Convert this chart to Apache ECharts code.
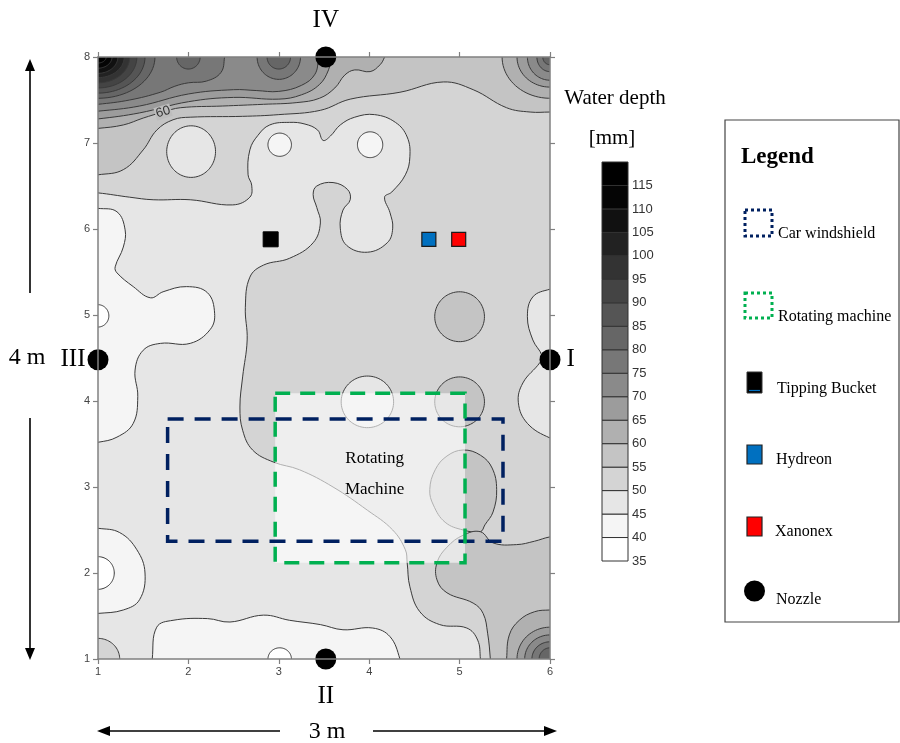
<!DOCTYPE html>
<html><head><meta charset="utf-8">
<script src="https://cdn.jsdelivr.net/npm/echarts/dist/echarts.min.js"></script>
<style>html,body{margin:0;padding:0;background:#fff}#c{width:900px;height:743px}</style>
</head><body><div id="c"></div>
<script>
// ---------------- data ----------------
const xTicks = [1, 2, 3, 4, 5, 6];
const yTicks = [1, 2, 3, 4, 5, 6, 7, 8];
const depthLevels = [35, 40, 45, 50, 55, 60, 65, 70, 75, 80, 85, 90, 95, 100, 105, 110, 115];
const depthColors = ['#ffffff', '#f5f5f5', '#e6e6e6', '#d4d4d4', '#c4c4c4', '#b0b0b0', '#9c9c9c', '#8a8a8a',
  '#777777', '#666666', '#555555', '#444444', '#333333', '#222222', '#111111', '#050505', '#000000'];
const backgroundLevel = 50;

// contour regions, in data units (x, y). polygon = list of [x,y]; ellipse = [cx, cy, rx, ry]
const contour45 = [
  [[0.9,6.42],[1.0,6.42],[1.35,6.37],[1.61,6.34],[2.02,6.34],[2.49,6.28],[2.68,6.37],[2.70,6.51],[2.66,6.63],[2.68,6.92],[2.77,7.09],[2.90,7.21],[3.12,7.24],[3.29,7.22],[3.43,7.15],[3.49,7.03],[3.57,7.08],[3.68,7.21],[3.84,7.30],[4.06,7.33],[4.29,7.24],[4.42,7.07],[4.45,6.84],[4.40,6.63],[4.25,6.43],[4.17,6.37],[4.23,6.19],[4.26,6.01],[4.20,5.84],[3.98,5.73],[3.75,5.81],[3.68,6.01],[3.71,6.22],[3.79,6.34],[3.76,6.46],[3.60,6.54],[3.42,6.50],[3.38,6.40],[3.42,6.25],[3.46,6.07],[3.38,5.84],[3.12,5.66],[2.83,5.58],[2.68,5.44],[2.63,5.09],[2.65,4.71],[2.60,4.28],[2.57,3.93],[2.60,3.66],[2.71,3.43],[2.94,3.29],[3.23,3.20],[3.60,3.00],[3.98,2.73],[4.26,2.50],[4.40,2.27],[4.42,2.12],[4.45,1.84],[4.56,1.55],[4.78,1.40],[5.08,1.36],[5.20,1.22],[5.23,1.0],[5.23,0.9],[0.9,0.9]],
  [2.03, 6.90, 0.27, 0.30],
  [[6.1,5.30],[6.0,5.30],[5.81,5.21],[5.75,4.98],[5.81,4.71],[5.91,4.53],[5.89,4.45],[5.70,4.21],[5.65,3.98],[5.75,3.74],[6.0,3.57],[6.1,3.57]],
  [3.98, 3.99, 0.29, 0.30]
];
const contour50 = [
  [1.0, 1.0, 0.24, 0.24]
];
const contour40 = [
  [[0.9,6.24],[1.0,6.24],[1.21,6.20],[1.30,5.99],[1.28,5.79],[1.19,5.56],[1.21,5.49],[1.39,5.33],[1.58,5.20],[1.72,5.27],[1.98,5.33],[2.21,5.26],[2.29,5.02],[2.24,4.83],[2.02,4.67],[1.69,4.67],[1.50,4.59],[1.41,4.36],[1.44,4.05],[1.39,3.74],[1.21,3.58],[1.0,3.52],[0.9,3.52]],
  [[0.9,2.52],[1.0,2.52],[1.24,2.47],[1.43,2.27],[1.52,2.0],[1.46,1.69],[1.28,1.57],[1.0,1.53],[0.9,1.53]],
  [[1.60,0.9],[1.60,1.0],[1.65,1.37],[1.83,1.45],[2.21,1.47],[2.46,1.43],[2.83,1.51],[3.12,1.45],[3.46,1.40],[3.71,1.34],[4.04,1.36],[4.23,1.26],[4.34,1.0],[4.34,0.9]],
  [3.01, 6.98, 0.13, 0.135],
  [4.01, 6.98, 0.14, 0.15]
];
const contour35 = [
  [1.0, 4.99, 0.12, 0.13],
  [1.0, 2.0, 0.18, 0.19],
  [3.01, 1.0, 0.13, 0.13]
];
const contour55 = [
  [[0.9,6.63],[1.0,6.63],[1.28,6.69],[1.50,6.92],[1.65,7.15],[1.83,7.27],[2.02,7.30],[2.60,7.31],[3.0,7.33],[3.46,7.38],[3.79,7.51],[4.34,7.59],[4.82,7.71],[5.15,7.62],[5.52,7.41],[5.78,7.36],[6.0,7.36],[6.1,7.36],[6.1,8.1],[0.9,8.1]],
  [5.0, 4.98, 0.275, 0.29],
  [5.0, 3.99, 0.275, 0.29],
  [[5.04,3.43],[5.23,3.37],[5.36,3.22],[5.41,2.97],[5.37,2.71],[5.28,2.56],[5.23,2.48],[5.04,2.50],[4.84,2.59],[4.71,2.79],[4.67,2.97],[4.73,3.20],[4.86,3.36]],
  [[5.23,2.48],[5.37,2.35],[5.63,2.33],[5.83,2.37],[6.0,2.42],[6.1,2.42],[6.1,0.9],[5.34,0.9],[5.34,1.0],[5.31,1.30],[5.26,1.53],[5.15,1.65],[4.86,1.77],[4.75,1.92],[4.75,2.12],[4.86,2.30],[5.04,2.44]]
];
const contour60 = [
  [[0.9,7.17],[1.0,7.17],[1.28,7.21],[1.50,7.29],[1.72,7.36],[1.91,7.41],[2.38,7.43],[2.83,7.45],[3.2,7.47],[3.45,7.52],[3.62,7.64],[3.73,7.79],[3.84,7.85],[4.01,7.83],[4.12,7.91],[4.17,8.0],[4.2,8.1],[0.9,8.1]],
  [6.0, 8.0, 0.53, 0.48],
  [[5.52,0.9],[5.52,1.0],[5.55,1.28],[5.66,1.45],[5.83,1.55],[6.0,1.57],[6.1,1.57],[6.1,0.9]]
];
const contour65 = [
  [[0.9,7.28],[1.0,7.28],[1.46,7.35],[2.0,7.48],[2.5,7.53],[3.0,7.51],[3.25,7.56],[3.45,7.68],[3.55,7.85],[3.58,8.0],[3.6,8.1],[0.9,8.1]],
  [6.0, 8.0, 0.365, 0.35],
  [6.0, 1.0, 0.365, 0.37]
];
const contour70 = [
  [[0.9,7.37],[1.0,7.37],[1.46,7.43],[2.0,7.57],[2.5,7.62],[2.75,7.61],[3.0,7.6],[3.25,7.67],[3.4,7.8],[3.44,8.0],[3.45,8.1],[0.9,8.1]],
  [6.0, 8.0, 0.25, 0.27],
  [6.0, 1.0, 0.28, 0.28]
];
const contour75 = [
  [[0.9,7.45],[1.0,7.45],[1.35,7.5],[1.69,7.59],[1.85,7.66],[2.0,7.70],[2.2,7.72],[2.36,7.82],[2.4,8.0],[2.4,8.1],[0.9,8.1]],
  [3.0, 8.0, 0.24, 0.26],
  [6.0, 8.0, 0.145, 0.17],
  [6.0, 1.0, 0.2, 0.2]
];
const contour80 = [
  [1.0, 8.0, 0.63, 0.48],
  [2.0, 8.0, 0.13, 0.14],
  [3.0, 8.0, 0.13, 0.14],
  [6.0, 8.0, 0.08, 0.09],
  [6.0, 1.0, 0.12, 0.13]
];
const contour85 = [[1.0, 8.0, 0.52, 0.42]];
const contour90 = [[1.0, 8.0, 0.43, 0.36]];
const contour95 = [[1.0, 8.0, 0.35, 0.30]];
const contour100 = [[1.0, 8.0, 0.29, 0.24]];
const contour105 = [[1.0, 8.0, 0.22, 0.19]];
const contour110 = [[1.0, 8.0, 0.155, 0.13]];
const contour115 = [[1.0, 8.0, 0.09, 0.07]];
const contourLabels = [[1.72, 7.36, '60']];

const windshield = [[1.77, 2.37, 5.48, 3.79]];
const rotatingMachine = [[2.96, 2.12, 5.06, 4.09]];
const rotatingMachineText = [[4.06, 3.33, 'Rotating'], [4.06, 2.97, 'Machine']];
const tippingBucket = [[2.91, 5.88]];
const hydreon = [[4.66, 5.88]];
const xanonex = [[4.99, 5.88]];
const nozzles = [[6.0, 4.48, 'I'], [3.52, 1.0, 'II'], [1.0, 4.48, 'III'], [3.52, 8.0, 'IV']];
const legendNames = ['Car windshield', 'Rotating machine', 'Tipping Bucket', 'Hydreon', 'Xanonex', 'Nozzle'];

// ---------------- build ----------------
const colorOf = lv => depthColors[depthLevels.indexOf(lv)];
const paintOrder = [[45, contour45], [50, contour50], [40, contour40], [35, contour35], [55, contour55],
  [60, contour60], [65, contour65], [70, contour70], [75, contour75], [80, contour80], [85, contour85],
  [90, contour90], [95, contour95], [100, contour100], [105, contour105], [110, contour110], [115, contour115]];
const shapes = [];
paintOrder.forEach(([lv, arr]) => arr.forEach(s => shapes.push({ lv, s })));

const SERIF = '"Liberation Serif", "Times New Roman", serif';
const SANS = '"Liberation Sans", Arial, sans-serif';

function ellipsePts(api, e) {
  const pts = [];
  for (let k = 0; k < 90; k++) {
    const t = k / 90 * Math.PI * 2;
    pts.push(api.coord([e[0] + e[2] * Math.cos(t), e[1] + e[3] * Math.sin(t)]));
  }
  return pts;
}

const frameLine = { show: true, onZero: false, lineStyle: { color: '#808080', width: 1.5 } };
const frameTick = { show: true, length: 5, lineStyle: { color: '#808080', width: 1.2 } };
const tickLabel = { fontSize: 11, color: '#444', fontFamily: SANS };

const chart = echarts.init(document.getElementById('c'), null, { renderer: 'canvas' });
const solid = (c, bc, bw) => ({ color: c, borderColor: bc, borderWidth: bw, opacity: 1 });
const option = {
  animation: false,
  backgroundColor: '#ffffff',
  grid: [
    { left: 98, top: 57, width: 452, height: 602, show: true, backgroundColor: colorOf(backgroundLevel), borderWidth: 0 },
    { left: 602, top: 162, width: 26, height: 399 }
  ],
  xAxis: [
    { type: 'value', gridIndex: 0, min: xTicks[0], max: xTicks[xTicks.length - 1], interval: 1, position: 'bottom',
      axisLine: frameLine, axisTick: frameTick, axisLabel: Object.assign({ margin: 7 }, tickLabel), splitLine: { show: false }, z: 10 },
    { type: 'value', gridIndex: 0, min: xTicks[0], max: xTicks[xTicks.length - 1], interval: 1, position: 'top',
      axisLine: frameLine, axisTick: frameTick, axisLabel: { show: false }, splitLine: { show: false }, z: 10 },
    { type: 'value', gridIndex: 1, min: 0, max: 1, show: false }
  ],
  yAxis: [
    { type: 'value', gridIndex: 0, min: yTicks[0], max: yTicks[yTicks.length - 1], interval: 1, position: 'left',
      axisLine: frameLine, axisTick: frameTick, axisLabel: Object.assign({ margin: 8 }, tickLabel), splitLine: { show: false }, z: 10 },
    { type: 'value', gridIndex: 0, min: yTicks[0], max: yTicks[yTicks.length - 1], interval: 1, position: 'right',
      axisLine: frameLine, axisTick: frameTick, axisLabel: { show: false }, splitLine: { show: false }, z: 10 },
    { type: 'value', gridIndex: 1, min: 35, max: 120, interval: 5, position: 'right',
      axisLine: { show: false }, axisTick: { show: false }, splitLine: { show: false },
      axisLabel: { margin: 4, fontSize: 13, color: '#333', fontFamily: SANS, formatter: v => (v >= 120 ? '' : String(v)) } }
  ],
  series: [
    { // filled contour bands
      type: 'custom', xAxisIndex: 0, yAxisIndex: 0, clip: true, silent: true, z: 2,
      data: shapes.map(() => [1, 1]),
      renderItem: (params, api) => {
        const it = shapes[params.dataIndex];
        const isPoly = Array.isArray(it.s[0]);
        const pts = isPoly ? it.s.map(p => api.coord(p)) : ellipsePts(api, it.s);
        return { type: 'polygon', shape: { points: pts, smooth: isPoly ? 0.4 : 0 },
          style: { fill: colorOf(it.lv), stroke: '#3a3a3a', lineWidth: 1 } };
      }
    },
    { // contour labels
      type: 'custom', xAxisIndex: 0, yAxisIndex: 0, silent: true, z: 3,
      data: contourLabels,
      renderItem: (params, api) => {
        const p = api.coord([api.value(0), api.value(1)]);
        return { type: 'text', x: p[0], y: p[1], rotation: 0.3,
          style: { text: contourLabels[params.dataIndex][2], fill: '#333', font: '13px ' + SANS,
            align: 'center', verticalAlign: 'middle', textAlign: 'center', textVerticalAlign: 'middle',
            backgroundColor: '#bdbdbd', padding: [0, 1] } };
      }
    },
    { // rotating machine stippled overlay
      type: 'custom', xAxisIndex: 0, yAxisIndex: 0, silent: true, z: 4,
      data: rotatingMachine,
      renderItem: (params, api) => {
        const a = api.coord([api.value(0), api.value(3)]);
        const b = api.coord([api.value(2), api.value(1)]);
        return { type: 'rect', shape: { x: a[0], y: a[1], width: b[0] - a[0], height: b[1] - a[1] },
          style: { fill: 'rgba(255,255,255,0.6)' } };
      }
    },
    { // rotating machine text
      type: 'custom', xAxisIndex: 0, yAxisIndex: 0, silent: true, z: 5,
      data: rotatingMachineText,
      renderItem: (params, api) => {
        const p = api.coord([api.value(0), api.value(1)]);
        return { type: 'text', x: p[0], y: p[1],
          style: { text: rotatingMachineText[params.dataIndex][2], fill: '#000', font: '17px ' + SERIF,
            align: 'center', verticalAlign: 'middle', textAlign: 'center', textVerticalAlign: 'middle' } };
      }
    },
    { // car windshield
      type: 'custom', xAxisIndex: 0, yAxisIndex: 0, silent: true, z: 6,
      data: windshield,
      renderItem: (params, api) => {
        const a = api.coord([api.value(0), api.value(3)]);
        const b = api.coord([api.value(2), api.value(1)]);
        return { type: 'rect', shape: { x: a[0], y: a[1], width: b[0] - a[0], height: b[1] - a[1] },
          style: { fill: 'none', stroke: '#002060', lineWidth: 3.5, lineDash: [16, 11] } };
      }
    },
    { // rotating machine outline
      type: 'custom', xAxisIndex: 0, yAxisIndex: 0, silent: true, z: 7,
      data: rotatingMachine,
      renderItem: (params, api) => {
        const a = api.coord([api.value(0), api.value(3)]);
        const b = api.coord([api.value(2), api.value(1)]);
        return { type: 'rect', shape: { x: a[0], y: a[1], width: b[0] - a[0], height: b[1] - a[1] },
          style: { fill: 'none', stroke: '#00b050', lineWidth: 3.5, lineDash: [15, 10] } };
      }
    },
    { name: 'Tipping Bucket', type: 'scatter', xAxisIndex: 0, yAxisIndex: 0, z: 8, clip: false, silent: true,
      symbol: 'rect', symbolSize: 15, itemStyle: solid('#000000', '#000000', 1), data: tippingBucket },
    { name: 'Hydreon', type: 'scatter', xAxisIndex: 0, yAxisIndex: 0, z: 8, clip: false, silent: true,
      symbol: 'rect', symbolSize: 14, itemStyle: solid('#0070c0', '#1a1a1a', 1.2), data: hydreon },
    { name: 'Xanonex', type: 'scatter', xAxisIndex: 0, yAxisIndex: 0, z: 8, clip: false, silent: true,
      symbol: 'rect', symbolSize: 14, itemStyle: solid('#ff0000', '#1a1a1a', 1.2), data: xanonex },
    { name: 'Nozzle', type: 'scatter', xAxisIndex: 0, yAxisIndex: 0, z: 9, clip: false, silent: true,
      symbol: 'circle', symbolSize: 21, itemStyle: solid('#000000', '#000000', 0),
      data: nozzles.map(n => {
        const pos = { I: 'right', II: 'bottom', III: 'left', IV: 'top' }[n[2]];
        const dist = { I: 6, II: 14, III: 2, IV: 14 }[n[2]];
        return { value: [n[0], n[1]], label: { show: true, formatter: n[2], position: pos, distance: dist,
          fontSize: 25, fontFamily: SERIF, color: '#000' } };
      }) },
    { // colour bar
      type: 'custom', xAxisIndex: 2, yAxisIndex: 2, silent: true, z: 2,
      data: depthLevels.map(l => [0, l]),
      renderItem: (params, api) => {
        const lo = api.value(1);
        const a = api.coord([0, lo + 5]);
        const b = api.coord([1, lo]);
        return { type: 'rect', shape: { x: a[0], y: a[1], width: b[0] - a[0], height: b[1] - a[1] },
          style: { fill: depthColors[params.dataIndex], stroke: '#333', lineWidth: 1 } };
      }
    }
  ]
};
chart.setOption(option);

// ---- annotations positioned from the axes ----
const P = (x, y) => chart.convertToPixel({ gridIndex: 0 }, [x, y]);
const tl = P(xTicks[0], yTicks[yTicks.length - 1]);
const br = P(xTicks[xTicks.length - 1], yTicks[0]);
const ax = 30, ay = 731;
const arrowStyle = { stroke: '#000', lineWidth: 1.6 };
const tri = (pts) => ({ type: 'polygon', shape: { points: pts }, style: { fill: '#000' } });
const txt = (x, y, t, font, align) => ({ type: 'text', x, y,
  style: { text: t, font, fill: '#000', align: align || 'center', verticalAlign: 'middle',
    textAlign: align || 'center', textVerticalAlign: 'middle' } });
const midY = (tl[1] + br[1]) / 2, midX = (tl[0] + br[0]) / 2;
const graphics = [
  // 4 m vertical arrow
  { type: 'line', shape: { x1: ax, y1: tl[1] + 12, x2: ax, y2: midY - 65 }, style: arrowStyle },
  tri([[ax, tl[1] + 2], [ax - 5, tl[1] + 14], [ax + 5, tl[1] + 14]]),
  { type: 'line', shape: { x1: ax, y1: midY + 60, x2: ax, y2: br[1] - 10 }, style: arrowStyle },
  tri([[ax, br[1] + 1], [ax - 5, br[1] - 11], [ax + 5, br[1] - 11]]),
  txt(27, midY - 0.5, '4 m', '24px ' + SERIF),
  // 3 m horizontal arrow
  { type: 'line', shape: { x1: tl[0] + 10, y1: ay, x2: midX - 44, y2: ay }, style: arrowStyle },
  tri([[tl[0] - 1, ay], [tl[0] + 12, ay - 5], [tl[0] + 12, ay + 5]]),
  { type: 'line', shape: { x1: midX + 49, y1: ay, x2: br[0] - 4, y2: ay }, style: arrowStyle },
  tri([[br[0] + 7, ay], [br[0] - 6, ay - 5], [br[0] - 6, ay + 5]]),
  txt(midX + 3, ay + 1, '3 m', '24px ' + SERIF),
  // colour bar title
  txt(615, 98, 'Water depth', '21px ' + SERIF),
  txt(612, 138, '[mm]', '21px ' + SERIF),
  // legend box
  { type: 'rect', shape: { x: 725, y: 120, width: 174, height: 502 }, style: { fill: '#fff', stroke: '#444', lineWidth: 1.2 } },
  txt(741, 157, 'Legend', 'bold 23px ' + SERIF, 'left'),
  { type: 'rect', shape: { x: 745, y: 210, width: 27, height: 26 }, style: { fill: 'none', stroke: '#002060', lineWidth: 3, lineDash: [3, 3] } },
  txt(778, 234, legendNames[0], '16px ' + SERIF, 'left'),
  { type: 'rect', shape: { x: 745, y: 293, width: 27, height: 25 }, style: { fill: 'none', stroke: '#00b050', lineWidth: 3, lineDash: [3, 3] } },
  txt(778, 317, legendNames[1], '16px ' + SERIF, 'left'),
  { type: 'rect', shape: { x: 747, y: 372, width: 15, height: 21 }, style: { fill: '#000', stroke: '#333', lineWidth: 1 } },
  { type: 'line', shape: { x1: 749, y1: 390.5, x2: 760, y2: 390.5 }, style: { stroke: '#0070c0', lineWidth: 1.2 } },
  txt(777, 389, legendNames[2], '16px ' + SERIF, 'left'),
  { type: 'rect', shape: { x: 747, y: 445, width: 15, height: 19 }, style: { fill: '#0070c0', stroke: '#222', lineWidth: 1.2 } },
  txt(776, 460, legendNames[3], '16px ' + SERIF, 'left'),
  { type: 'rect', shape: { x: 747, y: 517, width: 15, height: 19 }, style: { fill: '#ff0000', stroke: '#222', lineWidth: 1.2 } },
  txt(775, 532, legendNames[4], '16px ' + SERIF, 'left'),
  { type: 'circle', shape: { cx: 754.5, cy: 591, r: 10.5 }, style: { fill: '#000' } },
  txt(776, 600, legendNames[5], '16px ' + SERIF, 'left')
];
chart.setOption({ graphic: graphics.map(g => Object.assign({ silent: true, z: 100 }, g)) });
</script></body></html>
